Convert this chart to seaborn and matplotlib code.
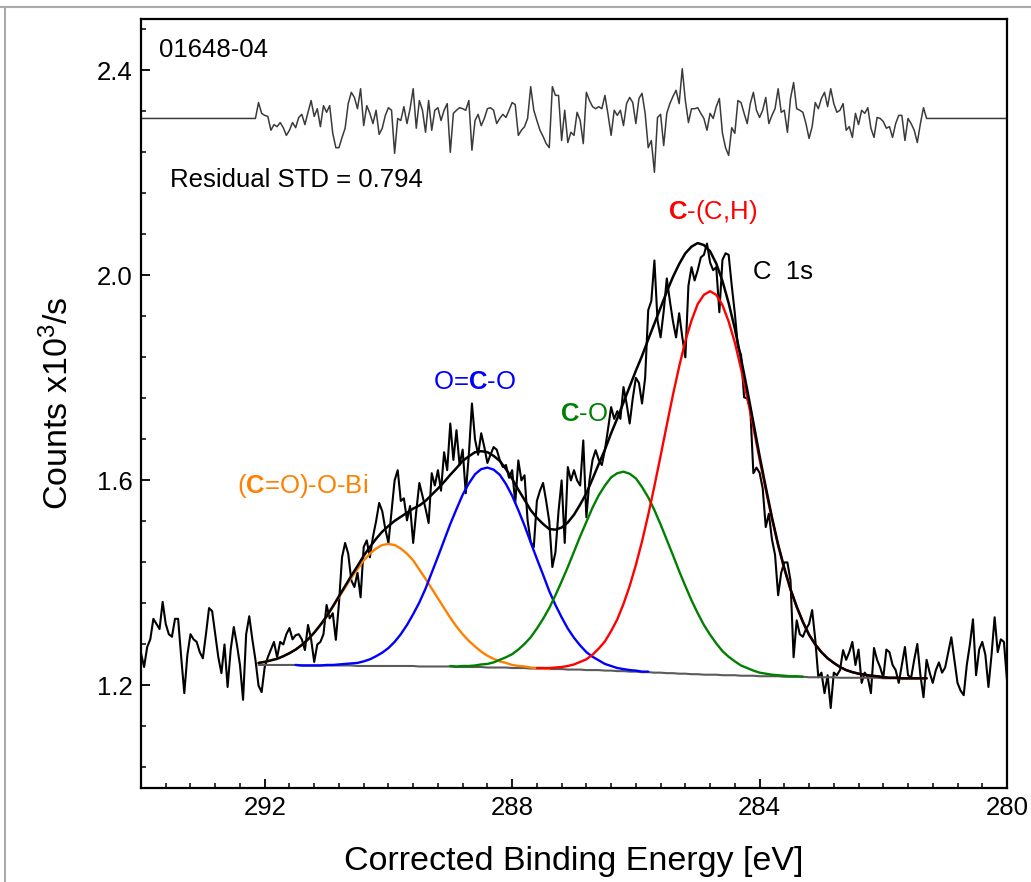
import matplotlib
matplotlib.use("Agg")
import matplotlib.pyplot as plt
import numpy as np
import pandas as pd
import seaborn as sns
from matplotlib.lines import Line2D
from matplotlib.ticker import FormatStrFormatter, MultipleLocator

# measured C 1s spectrum, 294.00 -> 280.00 eV in 0.05 eV steps (x10^3 counts/s)
ENERGY_START = 294.0
ENERGY_STEP = 0.05
COUNTS = [
    1.263, 1.236, 1.275, 1.290, 1.330, 1.320, 1.310, 1.363, 1.320, 1.300,
    1.295, 1.330, 1.330, 1.255, 1.185, 1.260, 1.300, 1.290, 1.285, 1.265,
    1.253, 1.300, 1.351, 1.345, 1.300, 1.255, 1.224, 1.280, 1.197, 1.270,
    1.314, 1.280, 1.240, 1.172, 1.300, 1.335, 1.290, 1.250, 1.200, 1.187,
    1.236, 1.255, 1.270, 1.285, 1.255, 1.285, 1.280, 1.300, 1.312, 1.290,
    1.298, 1.300, 1.290, 1.269, 1.318, 1.290, 1.246, 1.280, 1.285, 1.300,
    1.357, 1.331, 1.341, 1.289, 1.360, 1.450, 1.478, 1.457, 1.405, 1.392,
    1.420, 1.372, 1.470, 1.483, 1.450, 1.490, 1.520, 1.556, 1.540, 1.505,
    1.478, 1.540, 1.600, 1.620, 1.560, 1.565, 1.522, 1.550, 1.478, 1.540,
    1.595, 1.570, 1.545, 1.517, 1.614, 1.590, 1.620, 1.580, 1.655, 1.620,
    1.711, 1.640, 1.698, 1.630, 1.660, 1.575, 1.650, 1.750, 1.680, 1.650,
    1.692, 1.665, 1.634, 1.650, 1.665, 1.660, 1.640, 1.626, 1.630, 1.605,
    1.620, 1.556, 1.639, 1.600, 1.610, 1.522, 1.480, 1.470, 1.560, 1.580,
    1.595, 1.560, 1.520, 1.431, 1.460, 1.540, 1.600, 1.478, 1.626, 1.600,
    1.620, 1.600, 1.590, 1.678, 1.528, 1.600, 1.640, 1.659, 1.640, 1.630,
    1.660, 1.700, 1.743, 1.720, 1.735, 1.720, 1.782, 1.750, 1.711, 1.760,
    1.800, 1.790, 1.750, 1.800, 1.932, 1.950, 2.029, 1.912, 1.879, 1.930,
    1.994, 1.950, 1.910, 1.879, 1.926, 1.880, 1.840, 1.980, 2.016, 1.990,
    2.010, 2.035, 2.040, 2.062, 2.025, 2.010, 2.016, 1.928, 2.030, 2.043,
    2.040, 1.980, 1.926, 1.860, 1.845, 1.762, 1.760, 1.740, 1.614, 1.625,
    1.615, 1.585, 1.509, 1.535, 1.485, 1.455, 1.376, 1.420, 1.440, 1.440,
    1.405, 1.255, 1.327, 1.300, 1.295, 1.310, 1.320, 1.347, 1.290, 1.216,
    1.225, 1.185, 1.220, 1.156, 1.225, 1.220, 1.230, 1.269, 1.250, 1.265,
    1.285, 1.240, 1.270, 1.205, 1.225, 1.215, 1.185, 1.273, 1.250, 1.235,
    1.215, 1.270, 1.265, 1.240, 1.230, 1.205, 1.240, 1.275, 1.220, 1.215,
    1.250, 1.281, 1.220, 1.177, 1.250, 1.225, 1.205, 1.230, 1.245, 1.225,
    1.235, 1.265, 1.294, 1.250, 1.205, 1.190, 1.181, 1.240, 1.280, 1.329,
    1.220, 1.270, 1.285, 1.260, 1.197, 1.260, 1.333, 1.265, 1.290, 1.285,
    1.210,
]

# fit residual, 292.10 -> 281.30 eV in 0.05 eV steps, drawn around RESIDUAL_BASE
RESIDUAL_START = 292.1
RESIDUAL_BASE = 2.306
RESIDUAL = [
    0.031, 0.010, 0.006, 0.004, -0.023, -0.012, -0.016, -0.008, -0.018, -0.033,
    -0.023, -0.008, -0.018, 0.002, 0.008, -0.012, 0.012, 0.035, 0.004, 0.019,
    -0.016, 0.025, 0.012, 0.025, -0.029, -0.057, -0.057, -0.037, -0.019, 0.029,
    0.051, 0.041, 0.019, 0.058, -0.014, 0.025, 0.010, -0.010, 0.016, -0.031,
    -0.019, 0.006, 0.021, 0.016, -0.068, 0.000, -0.004, 0.023, -0.010, 0.019,
    0.058, -0.019, 0.035, 0.016, -0.027, 0.035, -0.023, 0.016, 0.021, -0.004,
    0.016, 0.029, -0.066, 0.010, 0.016, 0.021, 0.019, 0.016, 0.035, -0.062,
    -0.004, 0.008, -0.014, 0.000, 0.019, 0.021, 0.016, -0.010, 0.000, 0.008,
    0.002, 0.016, 0.031, 0.027, -0.033, -0.023, -0.016, 0.000, 0.062, 0.016,
    -0.004, -0.023, -0.035, -0.049, -0.057, 0.062, 0.045, 0.045, -0.043, 0.016,
    -0.047, -0.027, -0.033, 0.012, -0.004, -0.049, 0.051, 0.035, 0.023, 0.019,
    0.023, 0.019, 0.045, 0.008, -0.033, 0.016, 0.006, 0.016, -0.014, 0.029,
    0.041, 0.031, -0.010, 0.039, 0.049, 0.010, -0.057, -0.043, -0.105, 0.002,
    0.008, -0.053, 0.010, 0.029, 0.043, 0.055, 0.029, 0.097, 0.035, -0.008,
    0.019, 0.019, 0.021, 0.010, 0.000, -0.023, 0.010, 0.000, 0.023, 0.039,
    -0.029, -0.057, -0.072, -0.018, -0.029, 0.035, 0.031, 0.010, -0.010, 0.029,
    0.051, 0.016, 0.002, 0.016, 0.041, -0.010, 0.006, 0.019, 0.058, 0.012,
    0.016, -0.027, 0.039, 0.070, 0.019, 0.016, 0.012, -0.010, -0.039, -0.016,
    0.031, 0.019, 0.039, 0.051, 0.023, 0.058, 0.029, 0.012, 0.016, 0.029,
    -0.023, -0.016, -0.037, 0.010, -0.012, 0.016, 0.010, 0.021, -0.019, -0.037,
    0.002, 0.000, -0.006, -0.019, -0.016, -0.037, -0.010, 0.006, 0.006, -0.043,
    0.000, -0.010, -0.023, -0.047, -0.010, 0.021, 0.000,
]

# fit range: background on a 0.1 eV grid from 292.1 eV down to 281.3 eV
FIT_START = 292.1
FIT_STEP = 0.1
BACKGROUND = (
    [1.240] * 7 + [1.239] * 9 + [1.238] * 10 + [1.237] * 6 + [1.236] * 5
    + [1.235] * 4 + [1.234] * 3 + [1.233] * 3 + [1.232] * 3 + [1.231] * 3
    + [1.230] * 3 + [1.229] * 2 + [1.228] * 2 + [1.227] * 2 + [1.226] * 2
    + [1.225] * 2 + [1.224] * 2 + [1.223] * 2 + [1.222] * 2 + [1.221] * 3
    + [1.220] * 3 + [1.219] * 3 + [1.218] * 4 + [1.217] * 4 + [1.216] * 5
    + [1.215] * 7 + [1.214] * 8
)

# peak components: height above background, 0.1 eV grid from their start energy
COOBI_START = 292.1
COOBI = [
    0.004, 0.006, 0.009, 0.012, 0.017, 0.023, 0.030, 0.040, 0.051, 0.064,
    0.079, 0.095, 0.114, 0.133, 0.152, 0.171, 0.189, 0.206, 0.219, 0.229,
    0.236, 0.238, 0.236, 0.229, 0.219, 0.206, 0.189, 0.171, 0.152, 0.133,
    0.114, 0.095, 0.079, 0.064, 0.051, 0.040, 0.030, 0.023, 0.017, 0.012,
    0.009, 0.006, 0.004, 0.003, 0.002, 0.001, 0.001, 0.000,
]
OCO_START = 291.5
OCO = [
    0.000, 0.000, 0.000, 0.000, 0.000,
    0.001, 0.001, 0.002, 0.003, 0.004, 0.006, 0.009, 0.013, 0.019, 0.026,
    0.035, 0.047, 0.062, 0.080, 0.101, 0.125, 0.152, 0.183, 0.214, 0.246,
    0.278, 0.308, 0.336, 0.358, 0.376, 0.386, 0.390, 0.386, 0.376, 0.358,
    0.336, 0.308, 0.278, 0.246, 0.214, 0.183, 0.152, 0.125, 0.101, 0.080,
    0.062, 0.047, 0.035, 0.026, 0.019, 0.013, 0.009, 0.006, 0.004, 0.003,
    0.002, 0.001, 0.001,
]
CO_START = 289.0
CO = [
    0.001, 0.001, 0.002, 0.002, 0.003, 0.005, 0.007, 0.010, 0.015, 0.020,
    0.027, 0.036, 0.047, 0.061, 0.078, 0.097, 0.119, 0.144, 0.171, 0.200,
    0.230, 0.260, 0.289, 0.317, 0.341, 0.361, 0.377, 0.386, 0.389, 0.386,
    0.377, 0.361, 0.341, 0.317, 0.289, 0.260, 0.230, 0.200, 0.171, 0.144,
    0.119, 0.097, 0.078, 0.061, 0.047, 0.036, 0.027, 0.020, 0.015, 0.010,
    0.007, 0.005, 0.003, 0.002, 0.002, 0.001, 0.001, 0.000,
]
CCH_START = 287.6
CCH = [
    0.001, 0.001, 0.002, 0.003, 0.004, 0.007, 0.010, 0.015, 0.021, 0.030,
    0.042, 0.057, 0.077, 0.101, 0.131, 0.167, 0.208, 0.255, 0.307, 0.364,
    0.423, 0.484, 0.543, 0.599, 0.649, 0.690, 0.722, 0.741, 0.748, 0.741,
    0.722, 0.690, 0.649, 0.599, 0.543, 0.484, 0.423, 0.364, 0.307, 0.255,
    0.210, 0.170, 0.136, 0.107, 0.083, 0.064, 0.049, 0.037, 0.028, 0.021,
    0.015, 0.011, 0.008, 0.006, 0.004, 0.003, 0.002, 0.001, 0.001, 0.000,
    0.000, 0.000, 0.000, 0.000,
]

COMPONENTS = [
    ("coobi", COOBI_START, COOBI, "#ff8000"),
    ("oco", OCO_START, OCO, "#0000ff"),
    ("co", CO_START, CO, "#008000"),
    ("cch", CCH_START, CCH, "#ff0000"),
]

FIG_W, FIG_H = 1031, 882


def _energy_axis(start, step, n, decimals):
    return np.round(start - step * np.arange(n), decimals)


def build_spectrum() -> pd.DataFrame:
    energy = _energy_axis(ENERGY_START, ENERGY_STEP, len(COUNTS), 2)
    df = pd.DataFrame({"energy": energy, "counts": COUNTS})
    resid = pd.Series(
        RESIDUAL, index=_energy_axis(RESIDUAL_START, ENERGY_STEP, len(RESIDUAL), 2)
    )
    df["residual"] = RESIDUAL_BASE + resid.reindex(energy).fillna(0.0).values
    return df


def build_fit() -> pd.DataFrame:
    energy = _energy_axis(FIT_START, FIT_STEP, len(BACKGROUND), 1)
    fit = pd.DataFrame({"background": BACKGROUND}, index=energy)
    names = []
    for name, start, heights, _ in COMPONENTS:
        idx = _energy_axis(start, FIT_STEP, len(heights), 1)
        fit[name] = pd.Series(heights, index=idx)
        names.append(name)
    fit["envelope"] = fit["background"] + fit[names].fillna(0.0).sum(axis=1)
    return fit


def _line(ax, x, y, color, lw, z):
    sns.lineplot(x=x, y=y, ax=ax, color=color, linewidth=lw,
                 estimator=None, sort=False, zorder=z)


def plot_c1s() -> None:
    sns.set_theme(style="ticks")
    plt.rcParams["font.family"] = ["Liberation Sans", "DejaVu Sans"]
    plt.rcParams["mathtext.fontset"] = "custom"
    plt.rcParams["mathtext.rm"] = "Liberation Sans"
    plt.rcParams["mathtext.bf"] = "Liberation Sans:bold"
    plt.rcParams["mathtext.it"] = "Liberation Sans:italic"
    plt.rcParams["mathtext.default"] = "regular"

    spec = build_spectrum()
    fit = build_fit()

    fig = plt.figure(figsize=(FIG_W / 100, FIG_H / 100), dpi=100)
    ax = fig.add_axes([141 / FIG_W, 1 - 788 / FIG_H, 866 / FIG_W, 769 / FIG_H])

    _line(ax, spec["energy"], spec["counts"], "black", 1.5, 2)
    _line(ax, spec["energy"], spec["residual"], "#3a3a3a", 1.1, 2)
    _line(ax, fit.index, fit["background"], "#5a5a5a", 1.5, 3)
    for name, _, _, color in COMPONENTS:
        part = fit[name].dropna()
        _line(ax, part.index, fit.loc[part.index, "background"] + part, color, 1.7, 4)
    _line(ax, fit.index, fit["envelope"], "black", 1.8, 5)

    ax.set_xlim(294, 280)
    ax.set_ylim(1.0, 2.5)
    ax.xaxis.set_major_locator(MultipleLocator(4))
    ax.xaxis.set_minor_locator(MultipleLocator(0.4))
    ax.yaxis.set_major_locator(MultipleLocator(0.4))
    ax.yaxis.set_minor_locator(MultipleLocator(0.08))
    ax.xaxis.set_major_formatter(FormatStrFormatter("%d"))
    ax.yaxis.set_major_formatter(FormatStrFormatter("%.1f"))
    ax.tick_params(which="major", direction="in", length=6.5, width=1.3,
                   labelsize=18.5, pad=6, colors="black", top=False, right=False)
    ax.tick_params(which="minor", direction="in", length=3.6, width=1.1,
                   colors="black", top=False, right=False)
    for spine in ax.spines.values():
        spine.set_linewidth(1.6)
        spine.set_color("black")

    ax.set_xlabel("Corrected Binding Energy [eV]", fontsize=24.5, color="black", va="baseline")
    ax.xaxis.set_label_coords(0.5, -0.1066)
    ax.set_ylabel(r"Counts x10$^3$/s", fontsize=24.5, color="black", va="baseline")
    ax.yaxis.set_label_coords(-0.0837, 0.5)

    ax.text(0.0208, 0.9506, "01648-04", transform=ax.transAxes,
            fontsize=18.5, va="baseline", color="black")
    ax.text(0.0335, 0.7815, "Residual STD = 0.794", transform=ax.transAxes,
            fontsize=18.5, va="baseline", color="black")

    labels = [
        (292.45, 1.575, r"($\mathbf{C}$=O)-O-Bi", "#ff8000"),
        (289.28, 1.778, r"O=$\mathbf{C}$-O", "#0000ff"),
        (287.23, 1.715, r"$\mathbf{C}$-O", "#008000"),
        (285.48, 2.109, r"$\mathbf{C}$-(C,H)", "#ff0000"),
        (284.11, 1.992, "C  1s", "black"),
    ]
    for x, y, text, color in labels:
        ax.text(x, y, text, fontsize=18.5, color=color, va="baseline", ha="left")

    # thin grey frame of the original export (top and left edges)
    fig.add_artist(Line2D([0, 1], [1 - 7 / FIG_H] * 2, transform=fig.transFigure,
                          color="#aaaaaa", linewidth=1.5))
    fig.add_artist(Line2D([5 / FIG_W] * 2, [0, 1 - 7 / FIG_H], transform=fig.transFigure,
                          color="#aaaaaa", linewidth=1.5))

    fig.savefig("out.png", dpi=100, facecolor="white")
    plt.close(fig)


if __name__ == "__main__":
    plot_c1s()
